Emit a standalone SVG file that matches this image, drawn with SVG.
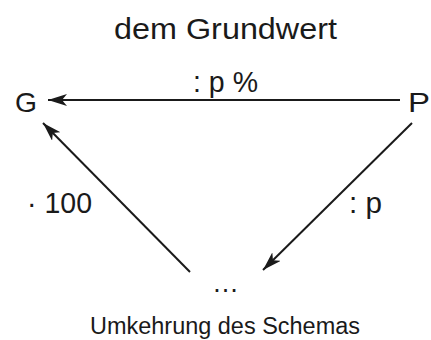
<svg xmlns="http://www.w3.org/2000/svg" width="431" height="340" viewBox="0 0 431 340">
<defs>
<marker id="ah" markerWidth="19" markerHeight="12" refX="19" refY="6" orient="auto" markerUnits="userSpaceOnUse">
<path d="M0,0 L19,6 L0,12 L5,6 Z" fill="#1a1a1a"/>
</marker>
</defs>
<style>
text{font-family:"Liberation Sans",Arial,sans-serif;fill:#1a1a1a}
.big{font-size:28px}
.lbl{font-size:29px}
.line{stroke:#1a1a1a;stroke-width:2;fill:none;marker-end:url(#ah)}
</style>
<rect width="431" height="340" fill="#fff"/>
<text x="114" y="39" font-size="30" textLength="223" lengthAdjust="spacingAndGlyphs">dem Grundwert</text>
<g id="G"><text x="15" y="112" class="big" textLength="22" lengthAdjust="spacingAndGlyphs">G</text></g>
<g id="P"><text x="408" y="112" class="big" textLength="22" lengthAdjust="spacingAndGlyphs">P</text></g>
<g id="dots"><text x="212" y="292" class="big" textLength="27" lengthAdjust="spacingAndGlyphs">…</text></g>
<g id="connectors">
<line class="line" x1="400" y1="100" x2="48" y2="100"/>
<line class="line" x1="412" y1="123" x2="263" y2="270"/>
<line class="line" x1="190" y1="272" x2="43" y2="123"/>
</g>
<text x="193" y="92" class="lbl" textLength="65" lengthAdjust="spacingAndGlyphs">: p %</text>
<text x="27" y="213" class="lbl" textLength="65" lengthAdjust="spacingAndGlyphs">· 100</text>
<text x="349" y="213" class="lbl" textLength="33" lengthAdjust="spacingAndGlyphs">: p</text>
<text x="90" y="334" font-size="23" textLength="270" lengthAdjust="spacingAndGlyphs">Umkehrung des Schemas</text>
</svg>
